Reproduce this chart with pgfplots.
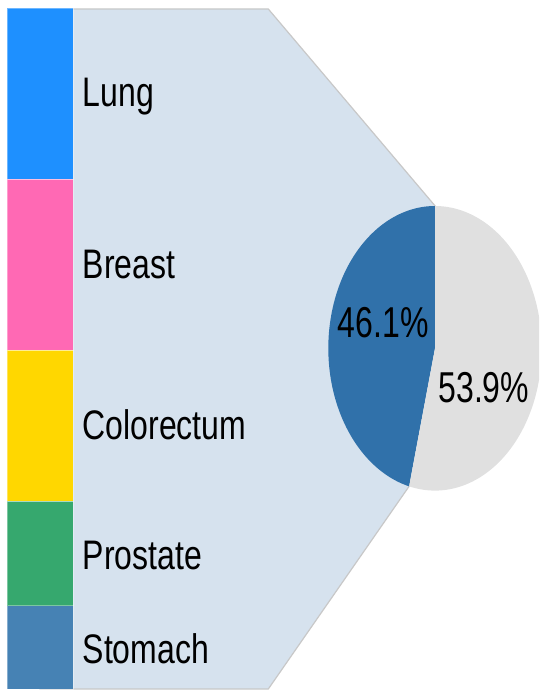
\documentclass[border=0pt]{standalone}
\usepackage{pgfplots}
\pgfplotsset{compat=1.18}
\usepackage{graphicx}
\usepackage{fontspec}
\setmainfont{Liberation Sans}
\definecolor{cLung}{HTML}{1E90FF}
\definecolor{cBreast}{HTML}{FF69B4}
\definecolor{cColo}{HTML}{FFD700}
\definecolor{cPros}{HTML}{36A86E}
\definecolor{cStom}{HTML}{4682B4}
\definecolor{pieblue}{HTML}{3071AA}
\definecolor{piegrey}{HTML}{E0E0E0}
\definecolor{polyfill}{HTML}{D6E2EE}
\definecolor{polyline}{HTML}{C8C8C8}
\newcommand{\lab}[1]{\fontsize{32}{36}\selectfont\scalebox{1}[1.29]{#1}}
\newcommand{\plab}[1]{\fontsize{32}{36}\selectfont\scalebox{1}[1.35]{#1}}
\def\share{46.1}
\begin{document}
\begin{tikzpicture}
% background axis in pixel units (y downwards)
\begin{axis}[
  at={(0pt,0pt)}, anchor=south west,
  scale only axis, width=539pt, height=690pt,
  xmin=0, xmax=539, ymin=0, ymax=690, y dir=reverse,
  hide axis, clip=true,
]
\addplot[fill=polyfill, draw=polyline, line width=1.2pt, line join=miter]
  coordinates {(40,9) (268.3,9) (435,205.8) (409.1,486.3) (268.3,689) (40,689)} -- cycle;
\addplot[fill=pieblue, draw=none, domain=90:{90+3.6*\share}, samples=120]
  ({435+106.7*cos(x)},{348.3-142.3*sin(x)}) -- (435,348.3) -- cycle;
\addplot[fill=piegrey, draw=none, domain={90+3.6*\share}:450, samples=120]
  ({435+106.7*cos(x)},{348.3-142.3*sin(x)}) -- (435,348.3) -- cycle;
\node[anchor=base west, inner sep=0pt] at (axis cs:82.5,106.7) {\lab{Lung}};
\node[anchor=base west, inner sep=0pt] at (axis cs:82.5,278.3) {\lab{Breast}};
\node[anchor=base west, inner sep=0pt] at (axis cs:82.5,439.3) {\lab{Colorectum}};
\node[anchor=base west, inner sep=0pt] at (axis cs:82.5,569.3) {\lab{Prostate}};
\node[anchor=base west, inner sep=0pt] at (axis cs:82.5,663.3) {\lab{Stomach}};
\node[anchor=base, inner sep=0pt] at (axis cs:383.3,337.7) {\plab{46.1\%}};
\node[anchor=base, inner sep=0pt] at (axis cs:483.8,402.7) {\plab{53.9\%}};
\end{axis}
% stacked bar with the case counts (millions)
\begin{axis}[
  at={(7.3pt,1pt)}, anchor=south west,
  scale only axis, width=65.7pt, height=680.7pt,
  xmin=-0.5, xmax=0.5, ymin=0, ymax=8.900, y dir=reverse,
  hide axis, clip=false,
  ybar stacked, bar width=65.7pt,
]
\addplot[fill=cLung, draw=white, draw opacity=0.35, line width=0.6pt] coordinates {(0,2.236)};
\addplot[fill=cBreast, draw=white, draw opacity=0.35, line width=0.6pt] coordinates {(0,2.236)};
\addplot[fill=cColo, draw=white, draw opacity=0.35, line width=0.6pt] coordinates {(0,1.974)};
\addplot[fill=cPros, draw=white, draw opacity=0.35, line width=0.6pt] coordinates {(0,1.365)};
\addplot[fill=cStom, draw=white, draw opacity=0.35, line width=0.6pt] coordinates {(0,1.089)};
\end{axis}
\pgfresetboundingbox
\path (0pt,0pt) rectangle (539pt,690pt);
\end{tikzpicture}
\end{document}
